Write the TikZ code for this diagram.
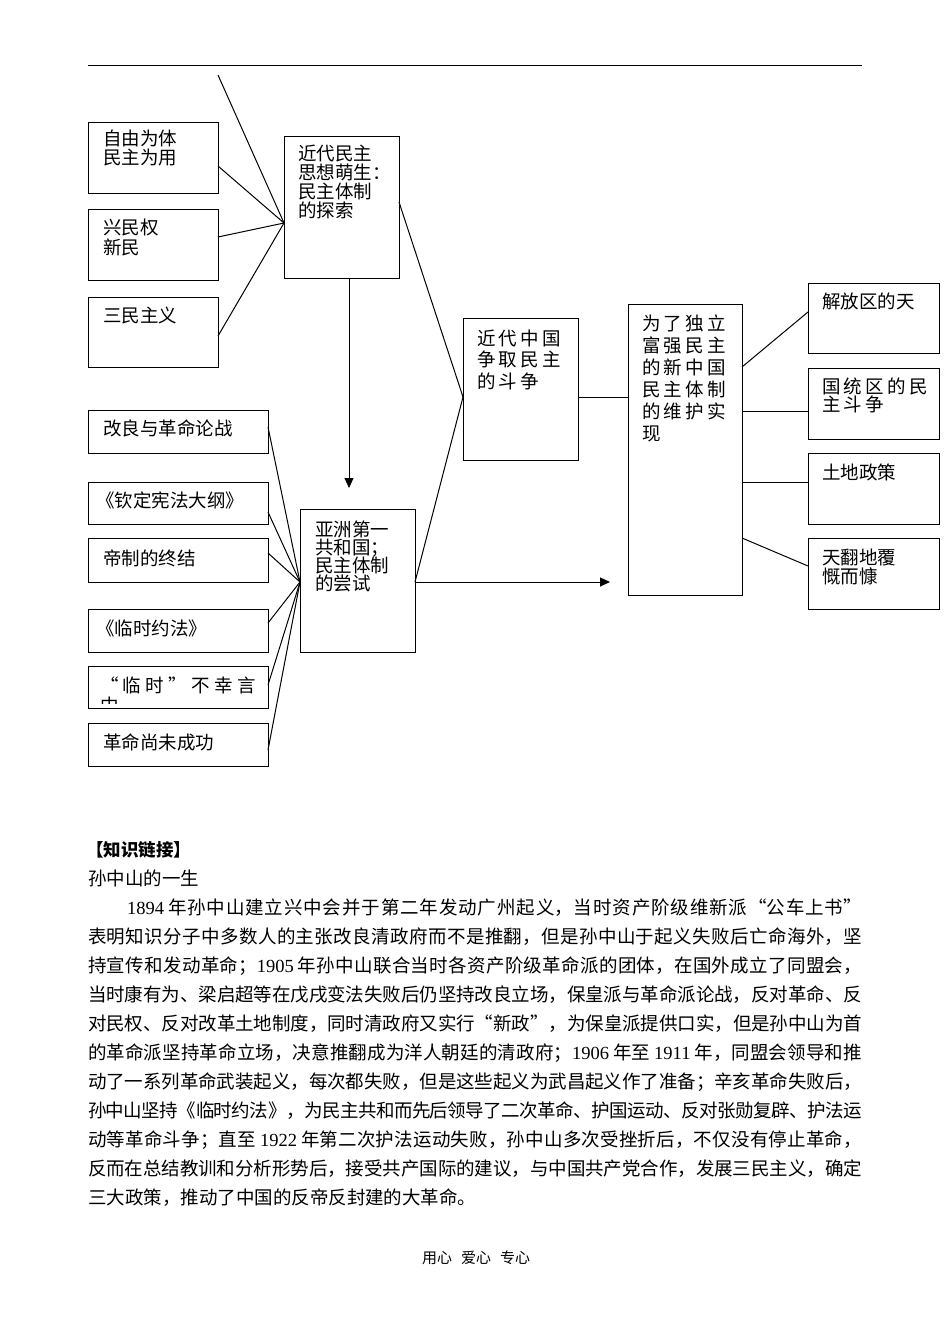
\documentclass[tikz,border=0pt]{standalone}
\usepackage{fontspec}
\usetikzlibrary{calc,arrows.meta}
\setmainfont{Noto Sans CJK SC}
\newfontfamily\cjk{Noto Sans CJK SC}
\newfontfamily\cjksp[LetterSpace=18]{Noto Sans CJK SC}
\newfontfamily\cjkspw[LetterSpace=24]{Noto Sans CJK SC}
\newfontfamily\lat{Liberation Serif}
\XeTeXlinebreaklocale "zh"
\XeTeXlinebreakskip=0pt plus 4pt minus 1.2pt

\tikzset{
 box/.style={draw, line width=1pt, inner sep=0pt, outer sep=0pt, anchor=north west},
 conn/.style={line width=1pt},
 arr/.style={line width=1pt, -{Triangle[length=10pt,width=9pt]}},
 txt/.style={anchor=base west, inner sep=0pt, outer sep=0pt, font=\cjk\fontsize{18.5pt}{19pt}\selectfont},
 txtsp/.style={txt, font=\cjksp\fontsize{18.5pt}{19pt}\selectfont},
 txtspw/.style={txt, font=\cjkspw\fontsize{18.5pt}{19pt}\selectfont},
 para/.style={anchor=base west, inner sep=0pt, outer sep=0pt, font=\cjk\fontsize{18.5pt}{29pt}\selectfont},
}

\newcommand\tlines[6][txt]{\foreach \t [count=\i from 0] in {#6} {\node[#1] (#2\i) at ({#3},{#4+\i*#5}) {\t};}}
\newcommand\pline[3]{\node[para] (#1) at (88,#2) {\parbox[b]{774pt}{\parindent=0pt\parfillskip=0pt\tolerance=10000\hbadness=10000\emergencystretch=20pt #3}};}

\begin{document}
\begin{tikzpicture}[x=1pt,y=-1pt]
\useasboundingbox (0,0) rectangle (950,1342);

% top rule
\coordinate (ruleL) at (88,65);
\coordinate (ruleR) at (862,65);
\draw[line width=1pt] (ruleL) -- (ruleR);

% ---------- boxes ----------
\node[box, minimum width=130pt, minimum height=71pt] (b1) at (88,122) {};
\node[box, minimum width=130pt, minimum height=71pt] (b2) at (88,209) {};
\node[box, minimum width=130pt, minimum height=70pt] (b3) at (88,297) {};
\node[box, minimum width=115pt, minimum height=142pt] (A) at (284,136) {};

\node[box, minimum width=180pt, minimum height=43pt] (c1) at (88,410) {};
\node[box, minimum width=180pt, minimum height=42pt] (c2) at (88,482) {};
\node[box, minimum width=180pt, minimum height=44pt] (c3) at (88,538) {};
\node[box, minimum width=180pt, minimum height=43pt] (c4) at (88,609) {};
\node[box, minimum width=180pt, minimum height=42pt] (c5) at (88,666) {};
\node[box, minimum width=180pt, minimum height=43pt] (c6) at (88,723) {};
\node[box, minimum width=115pt, minimum height=143pt] (B) at (300,509) {};

\node[box, minimum width=115pt, minimum height=142pt] (C) at (463,318) {};
\node[box, minimum width=114pt, minimum height=291pt] (D) at (628,304) {};

\node[box, minimum width=131pt, minimum height=70pt] (r1) at (808,283) {};
\node[box, minimum width=131pt, minimum height=71pt] (r2) at (808,368) {};
\node[box, minimum width=131pt, minimum height=71pt] (r3) at (808,453) {};
\node[box, minimum width=131pt, minimum height=71pt] (r4) at (808,538) {};

% ---------- box texts ----------
\tlines{tb1-}{103}{145}{19}{自由为体,民主为用}
\tlines{tb2-}{103}{234}{20}{兴民权,新民}
\tlines{tb3-}{103}{322}{19}{三民主义}
\tlines{tA-}{298}{160}{19.3}{近代民主,思想萌生：,民主体制,的探索}

\tlines{tc1-}{103}{435}{19}{改良与革命论战}
\tlines{tc2-}{96}{507}{19}{《钦定宪法大纲》}
\tlines{tc3-}{103}{565}{19}{帝制的终结}
\tlines{tc4-}{96}{635}{19}{《临时约法》}
\begin{scope}
\clip (88,666) rectangle (268,703);
\tlines[txtspw]{tc5-}{100}{692}{20}{“临时”不幸言,中}
\end{scope}
\tlines{tc6-}{103}{749}{19}{革命尚未成功}
\tlines{tB-}{315}{536}{18}{亚洲第一,共和国；,民主体制,的尝试}

\tlines[txtsp]{tC-}{477}{345}{21.5}{近代中国,争取民主,的斗争}
\tlines[txtsp]{tD-}{642}{330}{22}{为了独立,富强民主,的新中国,民主体制,的维护实,现}

\tlines{tr1-}{822}{308}{19}{解放区的天}
\tlines[txtsp]{tr2-}{822}{393}{18.5}{国统区的民,主斗争}
\tlines{tr3-}{822}{479}{19}{土地政策}
\tlines{tr4-}{822}{564}{19}{天翻地覆,慨而慷}

% ---------- connectors ----------
\coordinate (topfree) at (218,75);
\coordinate (Ain) at ($(A.north west)+(0,87)$);
\coordinate (Aout) at ($(A.north east)+(0,66)$);
\draw[conn] (topfree) -- (Ain);
\draw[conn] ($(b1.north east)+(0,44)$) -- (Ain);
\draw[conn] ($(b2.north east)+(0,28)$) -- (Ain);
\draw[conn] ($(b3.north east)+(0,39)$) -- (Ain);

\coordinate (Adown) at ($(A.south west)+(65,0)$);
\coordinate (Bup) at ($(B.north west)+(49,-21)$);
\draw[arr] (Adown) -- (Bup);

\coordinate (Bin) at ($(B.north west)+(0,73)$);
\coordinate (Bout) at ($(B.north east)+(0,73)$);
\draw[conn] ($(c1.north east)+(0,17)$) -- (Bin);
\draw[conn] ($(c2.north east)+(0,30)$) -- (Bin);
\draw[conn] ($(c3.north east)+(0,15)$) -- (Bin);
\draw[conn] ($(c4.north east)+(0,14)$) -- (Bin);
\draw[conn] ($(c5.north east)+(0,19)$) -- (Bin);
\draw[conn] ($(c6.north east)+(0,27)$) -- (Bin);

\coordinate (Cin) at ($(C.north west)+(0,79)$);
\draw[conn] (Aout) -- (Cin);
\draw[conn] (Bout) -- (Cin);
\coordinate (Darr) at ($(D.north west)+(-18,278)$);
\draw[arr] (Bout) -- (Darr);

\draw[conn] ($(C.north east)+(0,79)$) -- ($(D.north west)+(0,93)$);
\draw[conn] ($(D.north east)+(0,63)$) -- ($(r1.north west)+(0,29)$);
\draw[conn] ($(D.north east)+(0,107)$) -- ($(r2.north west)+(0,43)$);
\draw[conn] ($(D.north east)+(0,178)$) -- ($(r3.north west)+(0,29)$);
\draw[conn] ($(D.north east)+(0,234)$) -- ($(r4.north west)+(0,28)$);

% ---------- text section ----------
\node[anchor=base west, inner sep=0pt, font=\cjk\bfseries\fontsize{17.5pt}{20pt}\selectfont] (head) at (86,856) {【知识链接】};
\node[txt] (sub) at (88,885) {孙中山的一生};

\pline{p1}{914}{\hspace*{39pt}{\lat 1894}\hspace{4pt}年孙中山建立兴中会并于第二年发动广州起义，当时资产阶级维新派“公车上书”}
\pline{p2}{943}{表明知识分子中多数人的主张改良清政府而不是推翻，但是孙中山于起义失败后亡命海外，坚}
\pline{p3}{972}{持宣传和发动革命；{\lat 1905}\hspace{4pt}年孙中山联合当时各资产阶级革命派的团体，在国外成立了同盟会，}
\pline{p4}{1001}{当时康有为、梁启超等在戊戌变法失败后仍坚持改良立场，保皇派与革命派论战，反对革命、反}
\pline{p5}{1030}{对民权、反对改革土地制度，同时清政府又实行“新政”，为保皇派提供口实，但是孙中山为首}
\pline{p6}{1059}{的革命派坚持革命立场，决意推翻成为洋人朝廷的清政府；{\lat 1906}\hspace{4pt}年至\hspace{4pt}{\lat 1911}\hspace{4pt}年，同盟会领导和推}
\pline{p7}{1088}{动了一系列革命武装起义，每次都失败，但是这些起义为武昌起义作了准备；辛亥革命失败后，}
\pline{p8}{1117}{孙中山坚持《临时约法》，为民主共和而先后领导了二次革命、护国运动、反对张勋复辟、护法运}
\pline{p9}{1146}{动等革命斗争；直至\hspace{4pt}{\lat 1922}\hspace{4pt}年第二次护法运动失败，孙中山多次受挫折后，不仅没有停止革命，}
\pline{p10}{1175}{反而在总结教训和分析形势后，接受共产国际的建议，与中国共产党合作，发展三民主义，确定}
\node[para] (p11) at (88,1204) {三大政策，推动了中国的反帝反封建的大革命。};

\node[anchor=base, inner sep=0pt, font=\cjk\fontsize{15pt}{17pt}\selectfont] (foot) at (476,1263) {用心\hspace{9pt}爱心\hspace{9pt}专心};
\end{tikzpicture}
\end{document}
